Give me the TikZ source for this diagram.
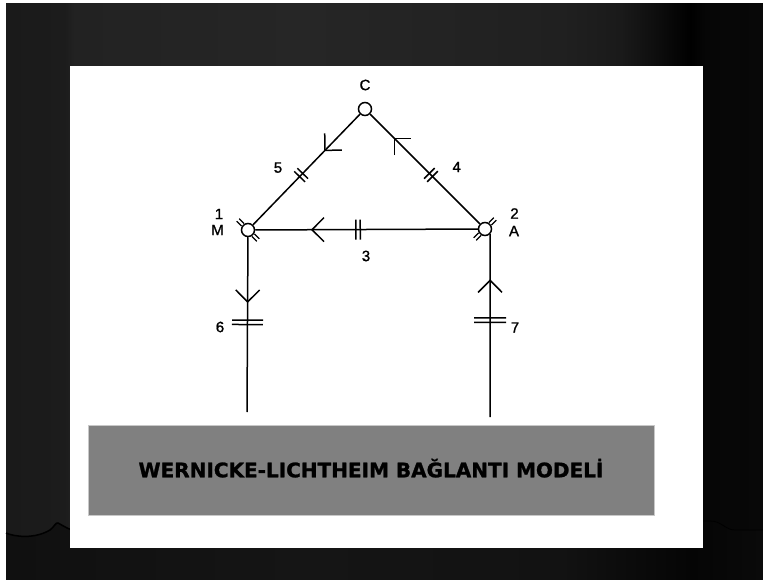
\documentclass[tikz,border=0pt]{standalone}
\usepackage{fontspec}
\setmainfont{Liberation Sans}
\newfontfamily\labfont[FakeBold=1.2]{Liberation Sans}
\newfontfamily\titlefont[BoldFeatures={FakeBold=1.2}]{DejaVu Sans}
\usepackage{xcolor}
\usetikzlibrary{calc, decorations.markings}

\definecolor{boxgray}{HTML}{808080}
\definecolor{boxedge}{HTML}{C8C8C8}
\definecolor{bgA}{HTML}{1A1A1A}
\definecolor{bgB}{HTML}{1C1C1C}
\definecolor{bgC}{HTML}{222222}
\definecolor{bgD}{HTML}{262626}
\definecolor{bgE}{HTML}{202020}
\definecolor{bgF}{HTML}{1A1A1A}
\definecolor{bgG}{HTML}{0C0C0C}
\definecolor{bgH}{HTML}{000000}
\definecolor{bgI}{HTML}{060606}
\definecolor{bgJ}{HTML}{080808}
\definecolor{lowA}{HTML}{101010}
\definecolor{lowB}{HTML}{151515}
\definecolor{lowC}{HTML}{121212}
\definecolor{lowD}{HTML}{080808}
\definecolor{lowE}{HTML}{050505}
\definecolor{lowF}{HTML}{0A0A0A}

\pgfdeclarehorizontalshading{curtaintop}{100bp}{color(0bp)=(bgA); color(25bp)=(bgA);
  color(28.9bp)=(bgB); color(29.5bp)=(bgC); color(44.7bp)=(bgD); color(61.7bp)=(bgE);
  color(65.6bp)=(bgF); color(68.2bp)=(bgG); color(70.2bp)=(bgH); color(71.2bp)=(bgI);
  color(75bp)=(bgJ); color(100bp)=(bgJ)}
\pgfdeclarehorizontalshading{curtainlow}{100bp}{color(0bp)=(lowA); color(25bp)=(lowA);
  color(44.7bp)=(lowB); color(61.7bp)=(lowC); color(68.2bp)=(lowD); color(70.2bp)=(lowE);
  color(75bp)=(lowF); color(100bp)=(lowF)}

\begin{document}
\begin{tikzpicture}[x=1pt, y=-1pt, line width=1.5pt,
  neuron/.style={circle, draw, fill=white, inner sep=0pt, minimum size=13pt},
  lbl/.style={font=\labfont\fontsize{15}{17}\selectfont, inner sep=0pt},
  titlebox/.style={draw=boxedge, line width=0.8pt, fill=boxgray, inner sep=0pt,
    minimum width=566pt, minimum height=90pt, text height=14.6pt, text depth=0pt,
    font=\titlefont\bfseries\fontsize{20}{24}\selectfont},
  fwd/.style={postaction={decorate, decoration={markings,
    mark=at position #1 with {\draw (-12pt,12pt) -- (0pt,0pt) -- (-12pt,-12pt);}}}},
  bars/.style 2 args={postaction={decorate, decoration={markings,
    mark=at position #1 with {\draw (-2.2pt,-#2) -- (-2.2pt,#2) (2.2pt,-#2) -- (2.2pt,#2);}}}},
  stub/.style={line width=1.2pt}]
  \useasboundingbox (0,0) rectangle (763,580);

  % backdrop and sheet
  \fill[white] (0,0) rectangle (763,580);
  \shade[shading=curtaintop] (6,4) rectangle (763,580);
  \shade[shading=curtainlow] (6,580) -- (6,533) .. controls (15,537) and (35,539) .. (50,530)
    .. controls (54,527) and (56,522) .. (58,523) .. controls (62,525) and (66,528) .. (72,530)
    -- (703,530) -- (710,521) .. controls (722,521) and (725,530) .. (735,530)
    -- (763,530) -- (763,580) -- cycle;
  \draw[black] (6,533) .. controls (15,537) and (35,539) .. (50,530)
    .. controls (54,527) and (56,522) .. (58,523) .. controls (62,525) and (66,528) .. (72,530);
  \draw[black, line width=0.8pt] (703,521) -- (710,521) .. controls (722,521) and (725,530) .. (735,530) -- (763,530);
  \fill[white] (70,66) rectangle (703,548);

  % centres
  \node[neuron] (C) at (365,109) {};
  \node[neuron] (M) at (248,230) {};
  \node[neuron] (A) at (485,229) {};
  \coordinate (Mout) at (247,412);
  \coordinate (Ain) at (490,417);

  % pathways
  \draw[fwd=0.327, bars={0.55}{7.5pt}] (C) -- (M);
  \draw[fwd=0.78, bars={0.446}{7.5pt}] (A) -- (C);
  \draw[fwd=0.745, bars={0.538}{10pt}] (A) -- (M);
  \draw[fwd=0.37, bars={0.487}{15.5pt}] (M) -- (Mout);
  \draw[fwd=0.747, bars={0.53}{16pt}] (Ain) -- (A.-45);

  % small double stubs on M and A
  \foreach \ang in {135,-45} {
    \draw[stub] ([shift={(\ang+90:1.8pt)}]M.\ang) -- ++(\ang:7pt);
    \draw[stub] ([shift={(\ang-90:1.8pt)}]M.\ang) -- ++(\ang:7pt);
  }
  \foreach \ang in {45,-135} {
    \draw[stub] ([shift={(\ang+90:1.8pt)}]A.\ang) -- ++(\ang:7pt);
    \draw[stub] ([shift={(\ang-90:1.8pt)}]A.\ang) -- ++(\ang:7pt);
  }

  % labels
  \node[lbl] (labC) at (365,85) {C};
  \node[lbl] (lab1) at (219,214) {1};
  \node[lbl] (labM) at (217.5,230) {M};
  \node[lbl] (lab2) at (514.5,213.5) {2};
  \node[lbl] (labA) at (514,231) {A};
  \node[lbl] (lab3) at (366,256) {3};
  \node[lbl] (lab4) at (456.7,167) {4};
  \node[lbl] (lab5) at (278,167.6) {5};
  \node[lbl] (lab6) at (220,327) {6};
  \node[lbl] (lab7) at (515,327.5) {7};

  \node[titlebox] (title) at (371,470) {WERNICKE-LICHTHEIM BAĞLANTI MODELİ};
\end{tikzpicture}
\end{document}
